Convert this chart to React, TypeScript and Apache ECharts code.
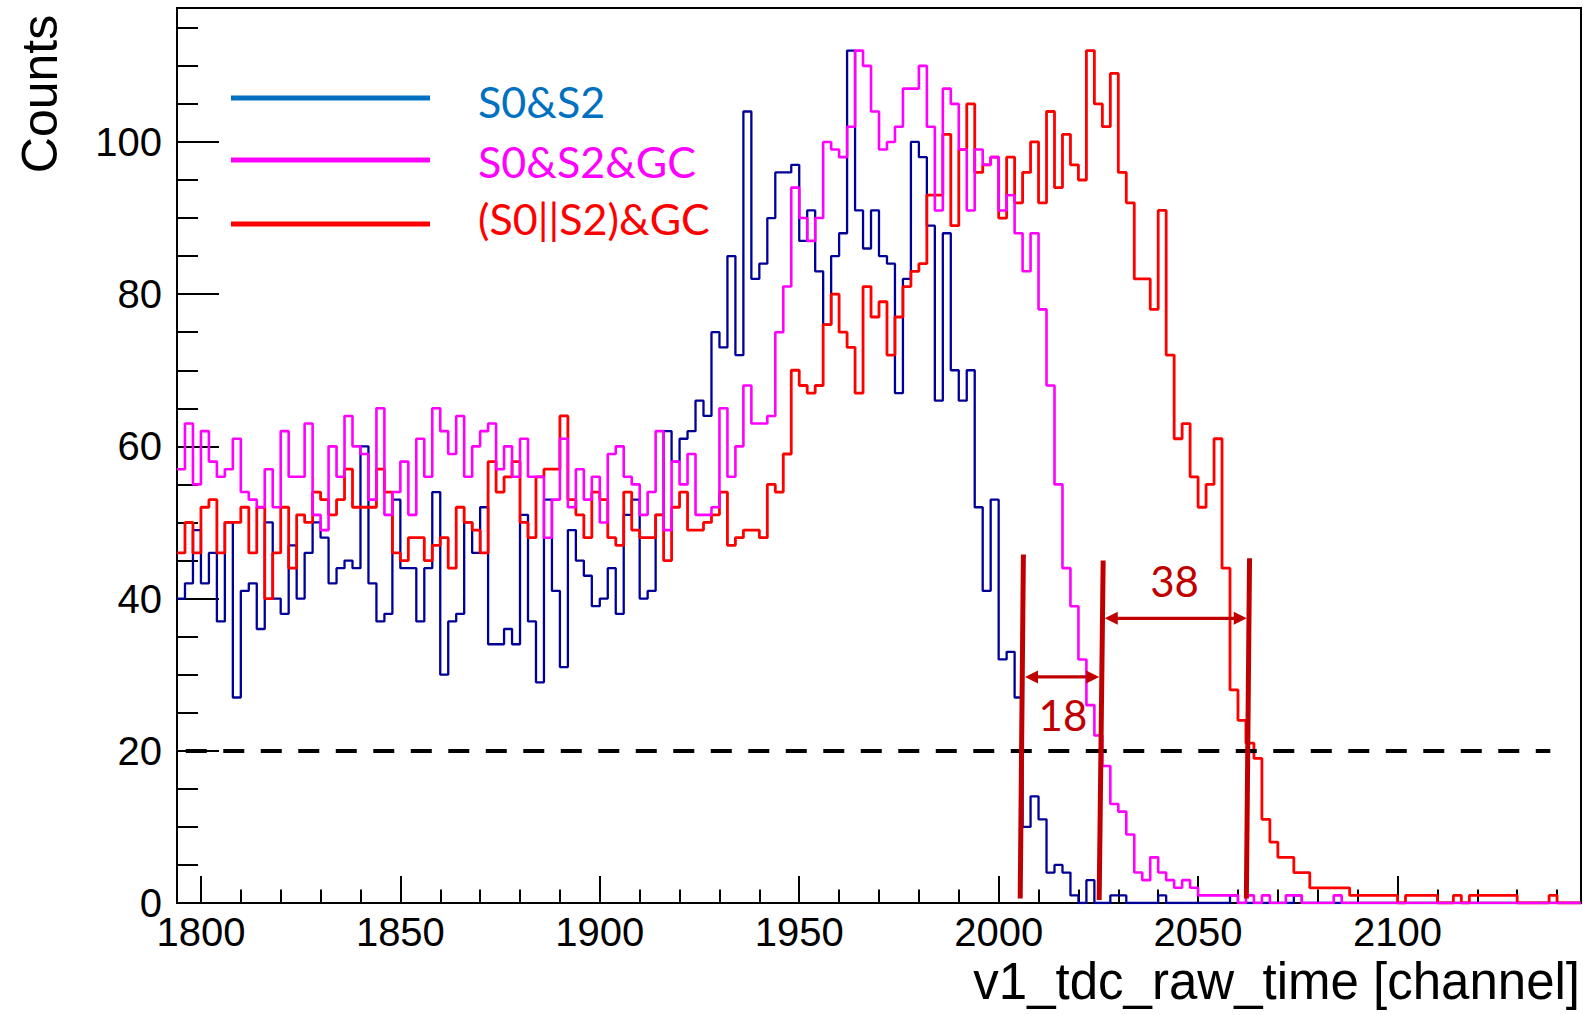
import React, { useEffect, useRef } from "react";
import * as echarts from "echarts";

// ---- binning ----
const BIN_START = 1794;
const BIN_WIDTH = 2;
const X_MIN = 1794;
const X_MAX = 2146;
const Y_MIN = 0;
const Y_MAX = 117.6;

// ---- tick values ----
const xMajorTicks = [1800, 1850, 1900, 1950, 2000, 2050, 2100];
const xMinorTicks = [
  1810, 1820, 1830, 1840, 1860, 1870, 1880, 1890, 1910, 1920, 1930, 1940,
  1960, 1970, 1980, 1990, 2010, 2020, 2030, 2040, 2060, 2070, 2080, 2090,
  2110, 2120, 2130, 2140,
];
const yMajorTicks = [0, 20, 40, 60, 80, 100];
const yMinorTicks = [5, 10, 15, 25, 30, 35, 45, 50, 55, 65, 70, 75, 85, 90, 95, 105, 110, 115];

// ---- series labels ----
const seriesNames = ["S0&S2", "S0&S2&GC", "(S0||S2)&GC"];

// ---- bin contents (2-channel bins from 1794) ----
const s0s2 = [
  40, 42, 49, 42, 46, 37, 50, 27, 41, 42,
  36, 50, 40, 38, 47, 40, 46, 50, 48, 42,
  44, 45, 44, 60, 42, 37, 38, 53, 44, 44,
  37, 44, 54, 30, 37, 38, 50, 46, 52, 34,
  34, 36, 34, 51, 37, 29, 53, 41, 31, 49,
  45, 43, 39, 40, 44, 38, 51, 53, 40, 41,
  51, 62, 58, 61, 62, 66, 64, 75, 73, 85,
  72, 104, 82, 84, 90, 96, 96, 97, 87, 91,
  83, 76, 85, 88, 112, 91, 86, 91, 85, 84,
  67, 82, 100, 98, 89, 66, 88, 70, 66, 70,
  52, 41, 53, 32, 33, 27, 10, 14, 11, 4,
  5, 4, 1, 0, 3, 0, 0, 1, 1, 0,
  0, 0, 0, 1, 0, 0, 0, 0, 0, 0,
  0, 0, 1, 0, 0, 0, 0, 0, 0, 0,
  1, 0, 0, 0, 0, 0, 0, 0, 0, 0,
  0, 0, 0, 0, 0, 0, 0, 0, 0, 0,
  0, 0, 0, 0, 0, 0, 0, 0, 0, 0,
  0, 0, 0, 0, 0, 0,
];

const s0s2gc = [
  57, 63, 55, 62, 58, 56, 57, 61, 54, 53,
  52, 57, 52, 62, 56, 56, 63, 51, 49, 60,
  56, 64, 60, 59, 53, 65, 51, 54, 58, 51,
  61, 56, 65, 62, 59, 64, 56, 60, 62, 63,
  57, 60, 56, 61, 56, 56, 48, 53, 61, 52,
  57, 53, 56, 50, 59, 60, 56, 55, 51, 54,
  62, 49, 58, 55, 59, 51, 51, 52, 65, 56,
  60, 68, 63, 63, 64, 75, 81, 94, 90, 87,
  90, 100, 99, 98, 102, 112, 110, 104, 99, 100,
  102, 107, 107, 110, 102, 91, 107, 105, 99, 91,
  99, 97, 98, 91, 93, 88, 83, 88, 78, 68,
  55, 44, 39, 32, 26, 22, 18, 13, 12, 9,
  4, 3, 6, 4, 3, 2, 3, 2, 1, 1,
  1, 1, 1, 0, 1, 0, 1, 0, 0, 1,
  1, 0, 0, 0, 0, 1, 0, 0, 0, 0,
  0, 0, 0, 0, 0, 0, 0, 0, 0, 0,
  0, 0, 0, 0, 0, 0, 0, 0, 0, 0,
  0, 0, 0, 0, 0, 0,
];

const s0orS2gc = [
  46, 50, 46, 52, 53, 46, 50, 50, 52, 46,
  52, 40, 46, 52, 44, 51, 50, 54, 53, 51,
  53, 57, 52, 52, 52, 57, 54, 46, 45, 48,
  48, 45, 47, 48, 44, 52, 50, 49, 46, 58,
  54, 56, 58, 50, 48, 56, 57, 57, 64, 53,
  51, 48, 54, 53, 48, 47, 54, 49, 48, 48,
  51, 45, 52, 54, 49, 49, 50, 51, 54, 47,
  48, 49, 49, 48, 55, 54, 59, 70, 68, 67,
  68, 76, 80, 75, 73, 67, 81, 77, 79, 72,
  77, 81, 83, 84, 93, 93, 101, 89, 99, 105,
  96, 97, 98, 90, 98, 92, 96, 100, 92, 104,
  94, 101, 97, 95, 112, 105, 102, 109, 96, 92,
  82, 82, 78, 91, 72, 61, 63, 56, 52, 55,
  61, 44, 28, 24, 21, 19, 11, 8, 6, 6,
  4, 4, 2, 2, 2, 2, 2, 1, 1, 1,
  1, 1, 1, 0, 1, 1, 1, 1, 0, 0,
  1, 0, 1, 1, 1, 1, 1, 1, 0, 0,
  0, 0, 1, 0, 0, 0,
];

// ---- annotations (data coordinates) ----
const thresholdLevel = 20;
const thresholdRange = [1796.2, 2138.3];
const cutLines = [
  [[2006.2, 45.8], [2005.4, 0.6]],
  [[2026.2, 45.0], [2025.2, 0.4]],
  [[2062.9, 45.3], [2062.1, 0.6]],
];
const widthArrows = [
  { y: 29.7, x0: 2006.6, x1: 2025.2, text: "18", tx: 2016.1, ty: 24.7 },
  { y: 37.4, x0: 2026.6, x1: 2062.2, text: "38", tx: 2044.1, ty: 42.3 },
];

const HIST_COLORS = ["#000099", "#ff00ff", "#ff0000"];
const LEGEND_COLORS = ["#0070c0", "#ff00ff", "#ff0000"];
const ANNOT = "#c00000";
const TICK_FONT = "'Liberation Sans', Arial, sans-serif";
const TITLE_FONT = "'Liberation Sans', Arial, sans-serif";
const LEGEND_FONT = "Lato, 'Open Sans', sans-serif";

function toSteps(values: number[]) {
  const pts: number[][] = values.map((v, i) => [BIN_START + i * BIN_WIDTH, v]);
  pts.push([BIN_START + values.length * BIN_WIDTH, values[values.length - 1]]);
  return pts;
}

const plainNumber = (v: number) => String(v);

function buildOption(): any {
  const axisLine = { show: true, lineStyle: { color: "#000", width: 2 } };
  const mkSeries = (name: string, vals: number[], color: string, width: number, extra: any = {}) => ({
    name,
    type: "line",
    step: "end",
    data: toSteps(vals),
    symbol: "none",
    showSymbol: false,
    clip: true,
    lineStyle: { color, width },
    itemStyle: { color },
    emphasis: { disabled: true },
    ...extra,
  });
  return {
    animation: false,
    backgroundColor: "#ffffff",
    grid: {
      left: 177,
      top: 8,
      right: 2,
      bottom: 112,
      show: true,
      borderColor: "#000",
      borderWidth: 2,
      backgroundColor: "transparent",
    },
    xAxis: [
      {
        type: "value",
        min: X_MIN,
        max: X_MAX,
        position: "bottom",
        axisLine,
        splitLine: { show: false },
        axisTick: { show: true, inside: true, length: 27, customValues: xMajorTicks, lineStyle: { color: "#000", width: 2 } },
        axisLabel: {
          show: true,
          customValues: xMajorTicks,
          formatter: plainNumber,
          color: "#000",
          fontSize: 40,
          lineHeight: 32,
          fontFamily: TICK_FONT,
          margin: 13,
        },
      },
      {
        type: "value",
        min: X_MIN,
        max: X_MAX,
        position: "bottom",
        offset: 0,
        axisLine: { show: false },
        splitLine: { show: false },
        axisTick: { show: true, inside: true, length: 13.5, customValues: xMinorTicks, lineStyle: { color: "#000", width: 2 } },
        axisLabel: { show: false },
      },
    ],
    yAxis: [
      {
        type: "value",
        min: Y_MIN,
        max: Y_MAX,
        position: "left",
        axisLine,
        splitLine: { show: false },
        axisTick: { show: true, inside: true, length: 42, customValues: yMajorTicks, lineStyle: { color: "#000", width: 2 } },
        axisLabel: {
          show: true,
          customValues: yMajorTicks,
          formatter: plainNumber,
          color: "#000",
          fontSize: 40,
          lineHeight: 32,
          fontFamily: TICK_FONT,
          margin: 15,
        },
      },
      {
        type: "value",
        min: Y_MIN,
        max: Y_MAX,
        position: "left",
        offset: 0,
        axisLine: { show: false },
        splitLine: { show: false },
        axisTick: { show: true, inside: true, length: 21, customValues: yMinorTicks, lineStyle: { color: "#000", width: 2 } },
        axisLabel: { show: false },
      },
    ],
    series: [
      mkSeries(seriesNames[0], s0s2, HIST_COLORS[0], 2.3),
      mkSeries(seriesNames[2], s0orS2gc, HIST_COLORS[2], 2.8, {
        markLine: {
          silent: true,
          symbol: ["none", "none"],
          label: { show: false },
          lineStyle: { color: "#000", width: 4, type: [21, 16.5] },
          data: [[{ coord: [thresholdRange[0], thresholdLevel] }, { coord: [thresholdRange[1], thresholdLevel] }]],
        },
      }),
      mkSeries(seriesNames[1], s0s2gc, HIST_COLORS[1], 2.6),
    ],
  };
}

function buildGraphics(chart: any) {
  const px = (p: number[]) => chart.convertToPixel({ gridIndex: 0 }, p) as number[];
  const g: any[] = [];
  // cut lines
  cutLines.forEach((ln) => {
    const a = px(ln[0]);
    const b = px(ln[1]);
    g.push({
      type: "line",
      shape: { x1: a[0], y1: a[1], x2: b[0], y2: b[1] },
      style: { stroke: ANNOT, lineWidth: 5 },
      z: 100,
    });
  });
  // double arrows
  const HL = 13;
  const HW = 6.5;
  widthArrows.forEach((ar) => {
    const a = px([ar.x0, ar.y]);
    const b = px([ar.x1, ar.y]);
    const y = a[1];
    g.push({
      type: "line",
      shape: { x1: a[0] + HL - 1, y1: y, x2: b[0] - HL + 1, y2: y },
      style: { stroke: ANNOT, lineWidth: 3.3 },
      z: 100,
    });
    g.push({
      type: "polygon",
      shape: { points: [[a[0], y], [a[0] + HL, y - HW], [a[0] + HL, y + HW]] },
      style: { fill: ANNOT },
      z: 100,
    });
    g.push({
      type: "polygon",
      shape: { points: [[b[0], y], [b[0] - HL, y - HW], [b[0] - HL, y + HW]] },
      style: { fill: ANNOT },
      z: 100,
    });
    const t = px([ar.tx, ar.ty]);
    g.push({
      type: "text",
      x: t[0],
      y: t[1],
      style: {
        text: ar.text,
        fill: ANNOT,
        font: `42px ${LEGEND_FONT}`,
        textAlign: "center",
        textVerticalAlign: "middle",
      },
      z: 100,
    });
  });
  // legend
  const legendY = [98, 160, 224];
  const legendTextY = [101, 161, 218];
  seriesNames.forEach((name, i) => {
    g.push({
      type: "line",
      shape: { x1: 231, y1: legendY[i], x2: 430, y2: legendY[i] },
      style: { stroke: LEGEND_COLORS[i], lineWidth: 5 },
      z: 100,
    });
    g.push({
      type: "text",
      x: 478,
      y: legendTextY[i],
      style: {
        text: name,
        fill: LEGEND_COLORS[i],
        font: `43px ${LEGEND_FONT}`,
        textAlign: "left",
        textVerticalAlign: "middle",
      },
      z: 100,
    });
  });
  // axis titles
  g.push({
    type: "text",
    x: 1580,
    y: 981,
    style: {
      text: "v1_tdc_raw_time [channel]",
      fill: "#000",
      font: `51px ${TITLE_FONT}`,
      lineHeight: 42,
      textAlign: "right",
      textVerticalAlign: "middle",
    },
    z: 100,
  });
  g.push({
    type: "text",
    x: 40,
    y: 94,
    rotation: Math.PI / 2,
    style: {
      text: "Counts",
      fill: "#000",
      font: `50px ${TITLE_FONT}`,
      textAlign: "center",
      textVerticalAlign: "middle",
    },
    z: 100,
  });
  return g;
}

export default function App() {
  const ref = useRef<HTMLDivElement>(null);
  useEffect(() => {
    if (!ref.current) return;
    const chart = echarts.init(ref.current, null, { renderer: "svg" });
    chart.setOption(buildOption());
    chart.setOption({ graphic: buildGraphics(chart) });
    return () => {
      chart.dispose();
    };
  }, []);
  return (
    <div
      ref={ref}
      style={{ position: "fixed", left: 0, top: 0, width: 1583, height: 1015, background: "#fff" }}
    />
  );
}
